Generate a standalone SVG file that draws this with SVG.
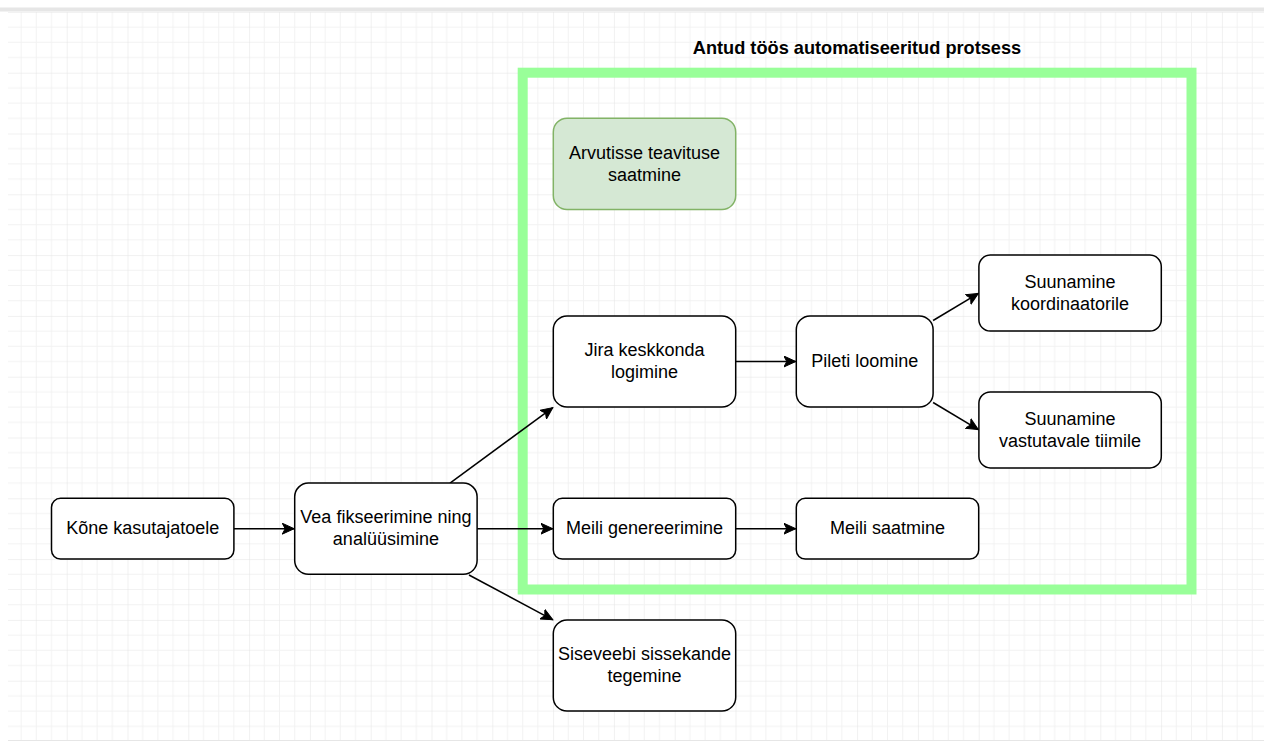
<svg xmlns="http://www.w3.org/2000/svg" width="1264" height="742" viewBox="0 0 1264 742">
<style>
.node rect{fill:#ffffff;stroke:#000000;stroke-width:1.5}
.node.green rect{fill:#d5e8d4;stroke:#82b366}
.node text{font-family:"Liberation Sans",Arial,Helvetica,sans-serif;font-size:18px;fill:#000000;text-anchor:middle}
.title{font-family:"Liberation Sans",Arial,Helvetica,sans-serif;font-size:18.2px;font-weight:bold;fill:#000000;text-anchor:middle}
.edge{fill:none;stroke:#000000;stroke-width:1.5}
</style>
<defs>
<pattern id="grid" patternUnits="userSpaceOnUse" x="5.9" y="11.9" width="60.8" height="60.8">
<path d="M15.2 0V60.8M30.4 0V60.8M45.6 0V60.8M0 15.2H60.8M0 30.4H60.8M0 45.6H60.8" stroke="#f2f2f2" stroke-width="1" fill="none"/>
<path d="M0 0V60.8M0 0H60.8" stroke="#e3e3e3" stroke-width="1" fill="none"/>
</pattern>
<marker id="arrow" markerUnits="userSpaceOnUse" markerWidth="14" markerHeight="12" refX="12" refY="6" orient="auto" viewBox="0 0 14 12">
<path d="M0 0.5L12 6L0 11.5L3 6Z" fill="#000000" stroke="#000000" stroke-width="1"/>
</marker>
</defs>
<rect x="0" y="0" width="1264" height="742" fill="#ffffff"/>
<rect x="8" y="12" width="1256" height="728" fill="url(#grid)"/>
<rect x="0" y="7.5" width="1264" height="4" fill="#e6e6e6"/>
<line x1="8" y1="740.5" x2="1264" y2="740.5" stroke="#e6e6e6" stroke-width="1"/>

<g id="automated-area">
<rect x="522.7" y="72.7" width="668.8" height="516.8" fill="none" stroke="#99ff99" stroke-width="10"/>
<text class="title" x="857" y="54">Antud töös automatiseeritud protsess</text>
</g>

<g id="connectors">
<line class="edge" x1="233.9" y1="528.7" x2="294.2" y2="528.7" marker-end="url(#arrow)"/>
<line class="edge" x1="477.1" y1="528.7" x2="552.8" y2="528.7" marker-end="url(#arrow)"/>
<line class="edge" x1="450" y1="483.1" x2="552.8" y2="407.6" marker-end="url(#arrow)"/>
<line class="edge" x1="469" y1="575" x2="552.8" y2="619.8" marker-end="url(#arrow)"/>
<line class="edge" x1="735.7" y1="361.5" x2="795.8" y2="361.5" marker-end="url(#arrow)"/>
<line class="edge" x1="933.1" y1="320.5" x2="978.4" y2="293.4" marker-end="url(#arrow)"/>
<line class="edge" x1="933.1" y1="402.5" x2="978.4" y2="429.6" marker-end="url(#arrow)"/>
<line class="edge" x1="735.7" y1="528.7" x2="795.8" y2="528.7" marker-end="url(#arrow)"/>
</g>

<g id="kone" class="node">
<rect x="51.5" y="498.3" width="182.4" height="60.8" rx="9" ry="9"/>
<text x="142.7" y="534">Kõne kasutajatoele</text>
</g>
<g id="vea" class="node">
<rect x="294.7" y="483.1" width="182.4" height="91.2" rx="13.7" ry="13.7"/>
<text x="385.9" y="523">Vea fikseerimine ning</text>
<text x="385.9" y="545">analüüsimine</text>
</g>
<g id="arvutisse" class="node green">
<rect x="553.3" y="118.3" width="182.4" height="91.2" rx="13.7" ry="13.7"/>
<text x="644.5" y="158.5">Arvutisse teavituse</text>
<text x="644.5" y="180.5">saatmine</text>
</g>
<g id="jira" class="node">
<rect x="553.3" y="315.9" width="182.4" height="91.2" rx="13.7" ry="13.7"/>
<text x="644.5" y="356">Jira keskkonda</text>
<text x="644.5" y="378">logimine</text>
</g>
<g id="pileti" class="node">
<rect x="796.3" y="315.9" width="136.8" height="91.2" rx="13.7" ry="13.7"/>
<text x="864.7" y="366.5">Pileti loomine</text>
</g>
<g id="koordinaator" class="node">
<rect x="978.9" y="255.1" width="182.4" height="76" rx="11.4" ry="11.4"/>
<text x="1070.1" y="288">Suunamine</text>
<text x="1070.1" y="310">koordinaatorile</text>
</g>
<g id="vastutav" class="node">
<rect x="978.9" y="391.9" width="182.4" height="76" rx="11.4" ry="11.4"/>
<text x="1070.1" y="425">Suunamine</text>
<text x="1070.1" y="447">vastutavale tiimile</text>
</g>
<g id="meili-gen" class="node">
<rect x="553.3" y="498.3" width="182.4" height="60.8" rx="9" ry="9"/>
<text x="644.5" y="534">Meili genereerimine</text>
</g>
<g id="meili-saat" class="node">
<rect x="796.3" y="498.3" width="182.4" height="60.8" rx="9" ry="9"/>
<text x="887.5" y="534">Meili saatmine</text>
</g>
<g id="siseveeb" class="node">
<rect x="553.3" y="619.9" width="182.4" height="91.2" rx="13.7" ry="13.7"/>
<text x="644.5" y="660">Siseveebi sissekande</text>
<text x="644.5" y="682">tegemine</text>
</g>
</svg>
